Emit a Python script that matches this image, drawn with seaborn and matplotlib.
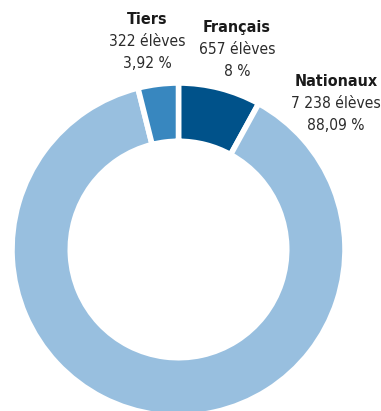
import matplotlib
matplotlib.use("Agg")
import matplotlib.pyplot as plt
import seaborn as sns

# Pupils by nationality group, in clockwise order from the top
groups = ["Français", "Nationaux", "Tiers"]
pupils = [657, 7238, 322]
shares = ["8", "88,09", "3,92"]
colors = ["#00528a", "#98bfdf", "#3887bf"]

sns.set_theme(style="white")
plt.rcParams["font.family"] = ["DejaVu Sans"]

W, H = 381, 411
fig = plt.figure(figsize=(W / 100, H / 100), dpi=100)
ax = fig.add_axes([0, 0, 1, 1])

cx, cy, R = 178.5, 249.5, 166.5  # centre and outer radius in pixels


def to_data(px, py):
    return (px - cx) / R, (cy - py) / R


ax.pie(
    pupils,
    colors=colors,
    startangle=90,
    counterclock=False,
    radius=1.0,
    wedgeprops=dict(width=0.35, edgecolor="white", linewidth=4),
)

ax.set_xlim((0 - cx) / R, (W - cx) / R)
ax.set_ylim((cy - H) / R, cy / R)
ax.set_aspect("equal")
ax.axis("off")


def fmt_count(n):
    return f"{n:,}".replace(",", " ") + " élèves"


label_pos = {
    "Tiers": (147, 20),
    "Français": (237, 28),
    "Nationaux": (336, 82),
}

FS = 11.2
for name, n, pct in zip(groups, pupils, shares):
    px, py = label_pos[name]
    x, y = to_data(px, py)
    ax.text(x, y, name, ha="center", va="center", fontsize=FS + 0.3,
            fontweight="bold", fontstretch="condensed", color="#1a1a1a")
    x2, y2 = to_data(px, py + 22)
    ax.text(x2, y2, fmt_count(n), ha="center", va="center", fontsize=FS,
            fontstretch="condensed", color="#2b2b2b")
    x3, y3 = to_data(px, py + 44)
    ax.text(x3, y3, f"{pct} %", ha="center", va="center", fontsize=FS,
            fontstretch="condensed", color="#2b2b2b")

fig.savefig("out.png", dpi=100, facecolor="white")
